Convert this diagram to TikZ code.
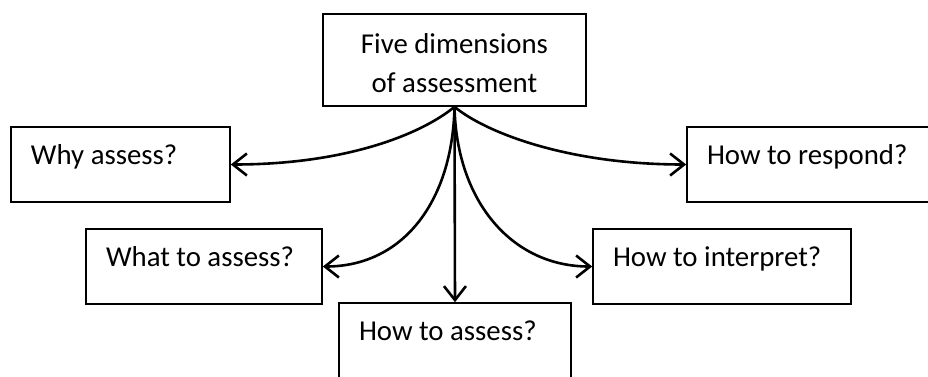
\documentclass[tikz,border=0pt]{standalone}
\usepackage{fontspec}
\setmainfont{Carlito}
\usetikzlibrary{arrows.meta}
\newcommand{\boxfont}{\fontsize{14.4}{19.5}\selectfont}
\tikzset{
    qbox/.style={draw, line width=0.8pt, text width=#1, inner xsep=10pt, inner ysep=0pt,
        text height=18.75pt, text depth=18.75pt, align=flush left, font=\boxfont},
    tbox/.style={draw, line width=0.8pt, text width=111.5pt, inner xsep=10pt, inner ysep=0pt,
        text height=19.5pt, text depth=26.5pt, align=flush center, font=\boxfont},
    link/.style={line width=1.3pt, -{Straight Barb[length=7pt,width=11pt]}}
}

\begin{document}
\begin{tikzpicture}[x=0.5pt, y=-0.5pt]
\useasboundingbox (0,0) rectangle (928,376);

% Centre box
\node[tbox] (dims) at (454.5,60) {Five dimensions\\of assessment};

% Upper row
\node[qbox=89.5pt] (why) at (120.5,164.5) {Why assess?};
\node[qbox=106pt] (respond) at (813,164.5) {How to respond?};

% Lower row
\node[qbox=98pt] (what) at (204,266.5) {What to assess?};
\node[qbox=109pt] (interpret) at (722,266.5) {How to interpret?};
\node[qbox=96pt] (how) at (455,340.5) {How to assess?};

% Arrows
\draw[link] (dims.south) .. controls +(-30,25) and +(120,0) .. (why.east);
\draw[link] (dims.south) .. controls +(30,25) and +(-120,0) .. (respond.west);
\draw[link] (dims.south) .. controls +(-2,95) and +(80,0) .. (what.east);
\draw[link] (dims.south) .. controls +(2,95) and +(-80,0) .. (interpret.west);
\draw[link] (dims.south) -- (how.north);

\end{tikzpicture}
\end{document}
